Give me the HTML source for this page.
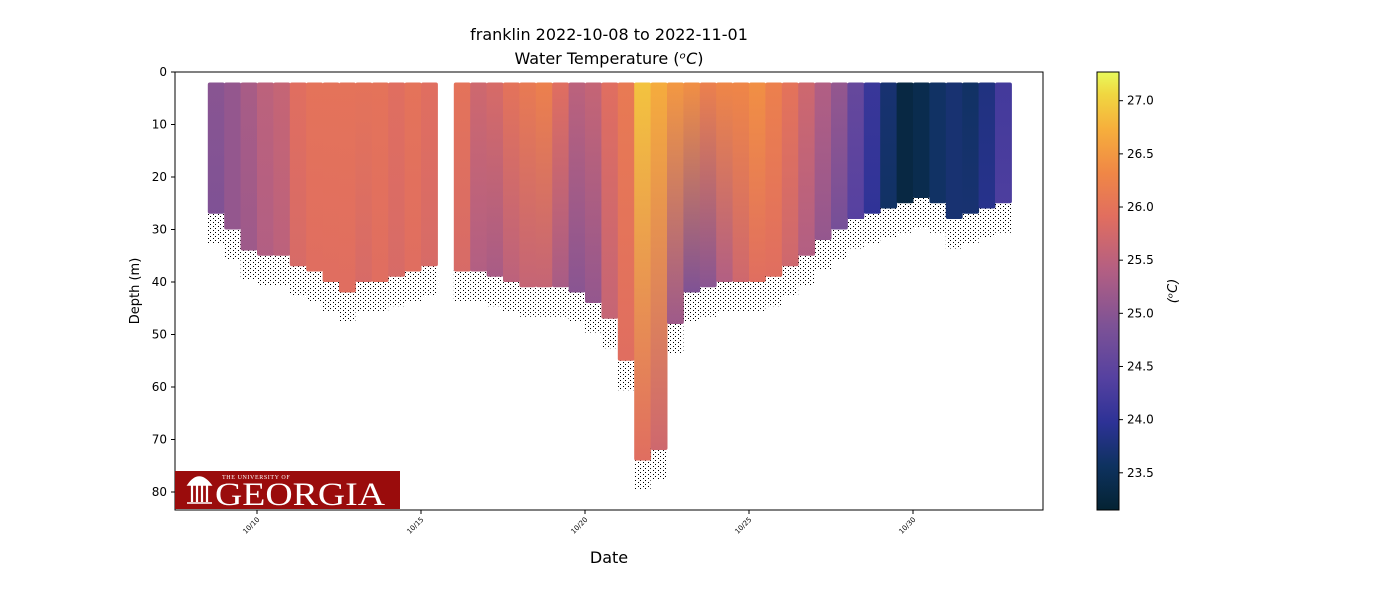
<!DOCTYPE html>
<html><head><meta charset="utf-8"><style>
body{margin:0;background:#fff;}
svg text{font-family:"DejaVu Sans","Liberation Sans",sans-serif;}
svg text.serif{font-family:"Liberation Serif","DejaVu Serif",serif;}
</style></head><body>
<svg id="chart" width="1400" height="600" xmlns="http://www.w3.org/2000/svg">
<defs>
<pattern id="dots" width="5" height="4" patternUnits="userSpaceOnUse"><rect x="0" y="0" width="1" height="1" fill="#000"/><rect x="3" y="2" width="1" height="1" fill="#000"/></pattern>
<linearGradient id="cbar" x1="0" y1="1" x2="0" y2="0"></linearGradient>
</defs>
<text x="609" y="40" font-size="16" text-anchor="middle">franklin 2022-10-08 to 2022-11-01</text>
<text x="609" y="64" font-size="16" text-anchor="middle">Water Temperature (<tspan font-style="italic">ᵒC</tspan>)</text>
<g id="plot"></g>
<g id="axes"></g>
<text x="609" y="563" font-size="16" text-anchor="middle">Date</text>
<text transform="translate(139,291) rotate(-90)" font-size="13" text-anchor="middle">Depth (m)</text>
<g id="cb"></g>
<text transform="translate(1177,291) rotate(-90)" font-size="13" text-anchor="middle" font-style="italic">(ᵒC)</text>
<g>
<rect x="175" y="471" width="225" height="38" fill="#9a0c0c"/>
<text class="serif" x="222" y="479" font-size="6" fill="#fff" letter-spacing="0.6">THE UNIVERSITY OF</text>
<text class="serif" x="215" y="505" font-size="33" fill="#fff" textLength="170" lengthAdjust="spacingAndGlyphs">GEORGIA</text>
<path d="M192 502 V485 M197 502 V485 M202 502 V485 M207 502 V485" stroke="#fff" stroke-width="2.2"/>
<path d="M188 485 Q199 469 211 485 Z M187 503 H212" fill="#fff" stroke="#fff" stroke-width="1.5"/>
</g>
</svg>
<script>
const days=[8.75,9.25,9.75,10.25,10.75,11.25,11.75,12.25,12.75,13.25,13.75,14.25,14.75,15.25,15.75,16.25,16.75,17.25,17.75,18.25,18.75,19.25,19.75,20.25,20.75,21.25,21.75,22.25,22.75,23.25,23.75,24.25,24.75,25.25,25.75,26.25,26.75,27.25,27.75,28.25,28.75,29.25,29.75,30.25,30.75,31.25,31.75,32.25,32.75];
const topTemps=[25.0,25.1,25.3,25.5,25.6,25.9,26.0,26.0,26.0,26.0,26.0,25.9,26.0,25.9,0,26.0,25.7,25.8,26.0,26.1,26.2,25.9,25.5,25.6,25.9,26.1,26.9,26.7,26.5,26.4,26.2,26.3,26.3,26.4,26.2,26.0,25.7,25.4,25.1,24.6,24.1,23.7,23.3,23.4,23.6,23.7,23.6,23.8,24.2];
const bottomTemps=[24.9,25.1,25.2,25.4,25.5,25.8,25.9,25.9,25.9,25.8,25.9,25.8,25.9,25.8,0,25.8,25.4,25.3,25.5,25.6,25.6,25.3,25.0,25.1,25.6,25.9,25.9,25.7,25.2,24.9,25.0,25.4,25.7,25.9,25.9,25.7,25.4,25.1,24.8,24.4,24.0,23.6,23.3,23.4,23.6,23.7,23.7,23.9,24.3];
const bottomDepths=[27,30,34,35,35,37,38,40,42,40,40,39,38,37,0,38,38,39,40,41,41,41,42,44,47,55,74,72,48,42,41,40,40,40,39,37,35,32,30,28,27,26,25,24,25,28,27,26,25];
const yTicks=[0,10,20,30,40,50,60,70,80];
const xTickDays=[10,15,20,25,30];
const xTickLabels=["10/10","10/15","10/20","10/25","10/30"];
const cbTicks=[23.5,24.0,24.5,25.0,25.5,26.0,26.5,27.0];

const NS="http://www.w3.org/2000/svg";
const L=175,R=1043,T=72,B=510;
const xs=d=>257+(d-10)*32.8;
const ys=m=>T+m*5.25;
const tMin=23.15,tMax=27.27;
const cbY=t=>B-(t-tMin)/(tMax-tMin)*(B-T);
const stops=[[0,[4,35,51]],[0.1,[14,50,95]],[0.2,[45,50,150]],[0.3,[85,65,160]],[0.42,[125,82,150]],[0.55,[180,95,130]],[0.67,[225,110,95]],[0.77,[240,135,70]],[0.87,[246,175,60]],[0.95,[240,215,65]],[1,[232,250,91]]];
function col(t){let f=Math.max(0,Math.min(1,(t-tMin)/(tMax-tMin)));for(let i=1;i<stops.length;i++){if(f<=stops[i][0]){const a=stops[i-1],b=stops[i];const u=(f-a[0])/(b[0]-a[0]);const c=a[1].map((v,k)=>Math.round(v+(b[1][k]-v)*u));return`rgb(${c})`;}}return"rgb(232,250,91)";}
function el(tag,attrs,parent){const e=document.createElementNS(NS,tag);for(const k in attrs)e.setAttribute(k,attrs[k]);parent.appendChild(e);return e;}
const defs=document.querySelector("defs");
const plot=document.getElementById("plot");
const w=32.8*0.5;
days.forEach((d,i)=>{
  if(!bottomDepths[i])return;
  const g=el("linearGradient",{id:"g"+i,x1:0,y1:0,x2:0,y2:1},defs);
  el("stop",{offset:"0",["stop-color"]:col(topTemps[i])},g);
  el("stop",{offset:"1",["stop-color"]:col(bottomTemps[i])},g);
  const dots=el("rect",{x:xs(d)-w/2,y:ys(bottomDepths[i])-2,width:w,height:Math.min(6*5.25,B-ys(bottomDepths[i])+2),fill:"url(#dots)"},plot);
  
  
  const r=el("rect",{x:xs(d)-w/2,y:ys(2),width:w+0.5,height:ys(bottomDepths[i])-ys(2),fill:"url(#g"+i+")",rx:2},plot);
  
  
});
const ax=document.getElementById("axes");
el("rect",{x:L,y:T,width:R-L,height:B-T,fill:"none",stroke:"#000","stroke-width":1},ax);
yTicks.forEach(v=>{const y=ys(v);el("line",{x1:L-4,x2:L,y1:y,y2:y,stroke:"#000"},ax);
  const t=el("text",{x:L-8,y:y+4,"font-size":12,"text-anchor":"end"},ax);t.textContent=v;
  });
xTickDays.forEach((d,i)=>{const x=xs(d);el("line",{x1:x,x2:x,y1:B,y2:B+4,stroke:"#000"},ax);
  const t=el("text",{transform:`translate(${x+3},${B+10}) rotate(-45)`,"font-size":7,"text-anchor":"end"},ax);t.textContent=xTickLabels[i];
  });
const cg=document.getElementById("cbar");
stops.forEach(s=>el("stop",{offset:s[0],["stop-color"]:`rgb(${s[1]})`},cg));
const cb=document.getElementById("cb");
el("rect",{x:1097,y:T,width:22,height:B-T,fill:"url(#cbar)",stroke:"#000"},cb);
cbTicks.forEach(v=>{const y=cbY(v);el("line",{x1:1119,x2:1123,y1:y,y2:y,stroke:"#000"},cb);
  const t=el("text",{x:1127,y:y+4,"font-size":12},cb);t.textContent=v.toFixed(1);
  });
</script>
</body></html>
